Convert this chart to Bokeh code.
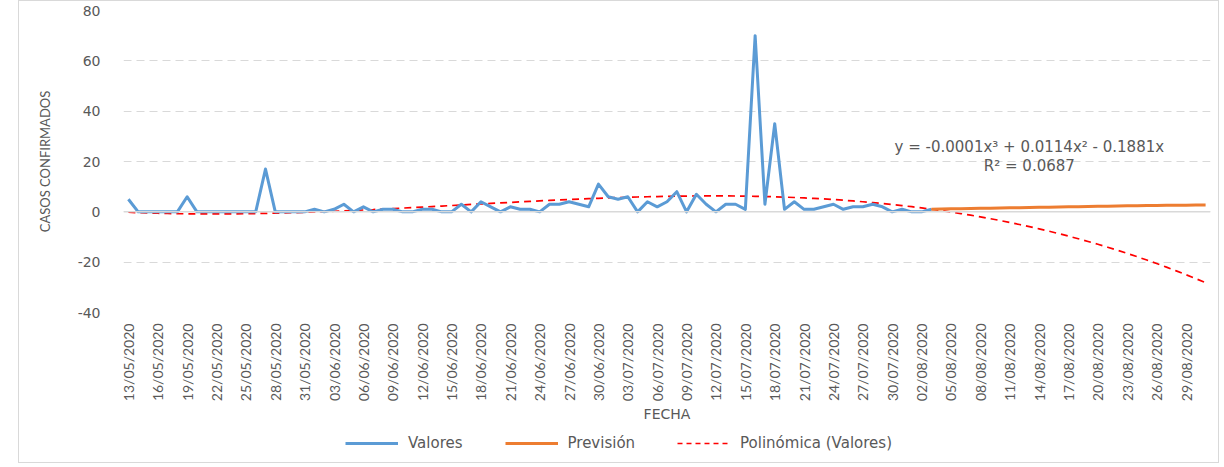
import numpy as np
import pandas as pd
from bokeh.plotting import figure
from bokeh.layouts import column
from bokeh.models import Range1d, FixedTicker, Span, Label, Legend, LegendItem
from bokeh.embed import file_html
from bokeh.resources import INLINE
from math import pi

# ---------------- data ----------------
fechas = [d.strftime("%d/%m/%Y") for d in pd.date_range("2020-05-13", "2020-08-31")]

valores = [5, 0, 0, 0, 0, 0, 6, 0, 0, 0,
           0, 0, 0, 0, 17, 0, 0, 0, 0, 1,
           0, 1, 3, 0, 2, 0, 1, 1, 0, 0,
           1, 1, 0, 0, 3, 0, 4, 2, 0, 2,
           1, 1, 0, 3, 3, 4, 3, 2, 11, 6,
           5, 6, 0, 4, 2, 4, 8, 0, 7, 3,
           0, 3, 3, 1, 70, 3, 35, 1, 4, 1,
           1, 2, 3, 1, 2, 2, 3, 2, 0, 1,
           0, 0, 1]

prevision = [1.0, 1.1, 1.2, 1.2, 1.3, 1.4, 1.4, 1.5, 1.6, 1.6,
             1.7, 1.8, 1.8, 1.9, 2.0, 2.0, 2.1, 2.2, 2.2, 2.3,
             2.4, 2.4, 2.5, 2.5, 2.6, 2.6, 2.6, 2.7, 2.7]

ecuacion = "y = -0.0001x³ + 0.0114x² - 0.1881x"
r_cuadrado = "R² = 0.0687"
y_ticks = [-40, -20, 0, 20, 40, 60, 80]
y_tick_labels = ["-40", "-20", "0", "20", "40", "60", "80"]
x_tick_step = 3

# ---------------- derived ----------------
n = len(fechas)
idx_val = list(range(len(valores)))
idx_prev = list(range(len(valores) - 1, len(valores) - 1 + len(prevision)))

# cubic trendline (intercept 0), Excel-style x = 1..N
xv = np.arange(1, len(valores) + 1, dtype=float)
A = np.vstack([xv ** 3, xv ** 2, xv]).T
coef, *_ = np.linalg.lstsq(A, np.array(valores, dtype=float), rcond=None)
xa = np.arange(1, n + 1, dtype=float)
tendencia = coef[0] * xa ** 3 + coef[1] * xa ** 2 + coef[2] * xa
idx_all = list(range(n))

GRAY = "#595959"
FONT_H = "DejaVu Sans"
FONT_V = "Lato"
C_VAL, C_PREV, C_TEND = "#5b9bd5", "#ed7d31", "#ff0000"

p = figure(width=1199, height=427,
           x_range=Range1d(-0.5, n - 0.5), y_range=Range1d(-40, 80),
           output_backend="svg", toolbar_location=None,
           min_border_left=104, min_border_right=8,
           min_border_top=9, min_border_bottom=116)
p.outline_line_color = None
p.background_fill_color = "white"
p.border_fill_color = "white"

# grid
p.xgrid.visible = False
p.ygrid.ticker = FixedTicker(ticks=y_ticks)
p.ygrid.grid_line_color = "#d9d9d9"
p.ygrid.grid_line_dash = "8 5"
p.ygrid.grid_line_width = 1
p.add_layout(Span(location=0, dimension="width", line_color="#d9d9d9", line_width=1.5))

# y axis
p.yaxis.ticker = FixedTicker(ticks=y_ticks)
p.yaxis.major_label_overrides = dict(zip(y_ticks, y_tick_labels))
p.yaxis.axis_line_color = None
p.yaxis.major_tick_line_color = None
p.yaxis.minor_tick_line_color = None
p.yaxis.major_label_standoff = 17
p.yaxis.major_label_text_font = FONT_H
p.yaxis.major_label_text_font_size = "14px"
p.yaxis.major_label_text_color = GRAY
p.yaxis.axis_label = "CASOS CONFIRMADOS"
p.yaxis.axis_label_text_font = FONT_V
p.yaxis.axis_label_text_font_size = "13px"
p.yaxis.axis_label_text_font_style = "normal"
p.yaxis.axis_label_text_color = GRAY
p.yaxis.axis_label_standoff = 22

# x axis
xt = list(range(0, n, x_tick_step))
p.xaxis.ticker = FixedTicker(ticks=xt)
p.xaxis.major_label_overrides = {i: fechas[i] for i in xt}
p.xaxis.major_label_orientation = pi / 2
p.xaxis.axis_line_color = None
p.xaxis.major_tick_line_color = None
p.xaxis.minor_tick_line_color = None
p.xaxis.major_label_standoff = 5
p.xaxis.major_label_text_font = FONT_V
p.xaxis.major_label_text_font_size = "14px"
p.xaxis.major_label_text_color = GRAY
p.xaxis.axis_label = "FECHA"
p.xaxis.axis_label_text_font = FONT_H
p.xaxis.axis_label_text_font_size = "14px"
p.xaxis.axis_label_text_font_style = "normal"
p.xaxis.axis_label_text_color = GRAY
p.xaxis.axis_label_standoff = 2

# series
p.line(idx_all, tendencia, line_color=C_TEND, line_width=1.7, line_dash="7 5")
p.line(idx_val, valores, line_color=C_VAL, line_width=3, line_join="round")
p.line(idx_prev, prevision, line_color=C_PREV, line_width=3, line_join="round")

# equation labels
p.add_layout(Label(x=92, y=25.7, text=ecuacion, text_align="center", text_baseline="middle",
                   text_font=FONT_H, text_font_size="15px", text_color=GRAY))
p.add_layout(Label(x=92, y=18.1, text=r_cuadrado, text_align="center", text_baseline="middle",
                   text_font=FONT_H, text_font_size="15px", text_color=GRAY))

# legend strip (frame aligned with the main plot's frame)
pl = figure(width=1199, height=34, x_range=Range1d(0, 1), y_range=Range1d(0, 1),
            output_backend="svg", toolbar_location=None,
            x_axis_location=None, y_axis_location=None, min_border=0)
pl.outline_line_color = None
pl.grid.visible = False
# legend proxies (outside the visible range, only their legend glyphs show)
lv = pl.line([-10, -9], [-10, -9], line_color=C_VAL, line_width=3)
lp = pl.line([-10, -9], [-10, -9], line_color=C_PREV, line_width=3)
lt = pl.line([-10, -9], [-10, -9], line_color=C_TEND, line_width=1.7, line_dash="5 4")
lg = Legend(items=[LegendItem(label="Valores", renderers=[lv]),
                   LegendItem(label="Previsión", renderers=[lp]),
                   LegendItem(label="Polinómica (Valores)", renderers=[lt])],
            location=(222, 9), orientation="horizontal",
            border_line_color=None, background_fill_alpha=0,
            padding=0, margin=0, spacing=42, glyph_width=53, glyph_height=20,
            label_standoff=10, label_text_font=FONT_H,
            label_text_font_size="15px", label_text_color=GRAY)
pl.add_layout(lg, "center")

layout = column(p, pl, spacing=0,
                styles={"border": "1px solid #d9d9d9", "margin-left": "18px"})
open("out.html", "w").write(file_html(layout, INLINE))
